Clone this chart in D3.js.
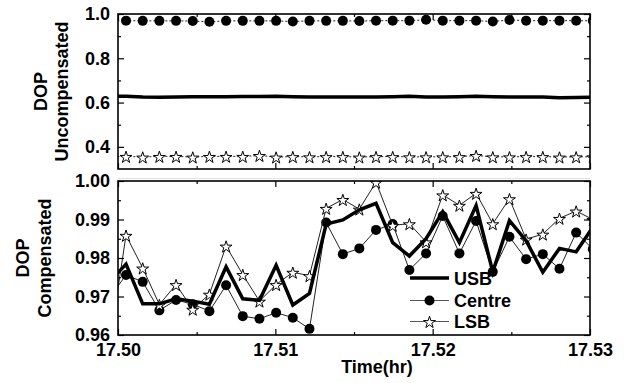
<!DOCTYPE html>
<html>
<head>
<meta charset="utf-8">
<script src="https://cdn.jsdelivr.net/npm/d3@7"></script>
<style>
  body { margin: 0; background: #fff; }
  svg { display: block; font-family: "Liberation Sans", Arial, sans-serif; font-weight: bold; }
</style>
</head>
<body>
<svg width="624" height="383"></svg>
<script>
// sample times (hr)
let time = [17.49945, 17.50051, 17.50157, 17.50263, 17.50369, 17.50475, 17.50581, 17.50687,
  17.50793, 17.50899, 17.51005, 17.51111, 17.51217, 17.51323, 17.51429, 17.51534, 17.51640,
  17.51746, 17.51852, 17.51958, 17.52064, 17.52170, 17.52276, 17.52382, 17.52488, 17.52594,
  17.52700, 17.52806, 17.52912, 17.53018]

// top panel: uncompensated DOP
let uncUSB = [0.629, 0.629, 0.625, 0.624, 0.625, 0.626, 0.626, 0.626, 0.627, 0.627, 0.628, 0.626,
  0.625, 0.625, 0.625, 0.625, 0.625, 0.626, 0.628, 0.625, 0.625, 0.626, 0.628, 0.626, 0.625,
  0.625, 0.625, 0.622, 0.623, 0.624]
let uncCentre = [0.970, 0.970, 0.969, 0.969, 0.969, 0.968, 0.965, 0.969, 0.969, 0.969, 0.969, 0.966,
  0.969, 0.969, 0.969, 0.968, 0.970, 0.970, 0.970, 0.974, 0.970, 0.970, 0.970, 0.966, 0.973,
  0.970, 0.970, 0.970, 0.970, 0.969]
let uncLSB = [0.357, 0.357, 0.354, 0.357, 0.357, 0.354, 0.357, 0.357, 0.357, 0.361, 0.354, 0.356,
  0.355, 0.356, 0.356, 0.354, 0.356, 0.356, 0.355, 0.355, 0.355, 0.356, 0.361, 0.355, 0.355,
  0.356, 0.356, 0.354, 0.355, 0.355]

// bottom panel: compensated DOP
let compUSB = [0.9738, 0.9784, 0.9681, 0.9681, 0.9694, 0.9688, 0.9680, 0.9777, 0.9694, 0.9690,
  0.9781, 0.9678, 0.9708, 0.9888, 0.9899, 0.9925, 0.9942, 0.9840, 0.9805, 0.9850, 0.9920,
  0.9840, 0.9936, 0.9764, 0.9897, 0.9845, 0.9763, 0.9825, 0.9816, 0.9880]
let compCentre = [0.9696, 0.9756, 0.9738, 0.9664, 0.9691, 0.9680, 0.9662, 0.9729, 0.9649, 0.9642,
  0.9658, 0.9645, 0.9616, 0.9892, 0.9810, 0.9825, 0.9873, 0.9888, 0.9769, 0.9812, 0.9909,
  0.9812, 0.9896, 0.9764, 0.9855, 0.9797, 0.9810, 0.9772, 0.9866, 0.9823]
let compLSB = [0.9573, 0.9859, 0.9774, 0.9679, 0.9731, 0.9667, 0.9706, 0.9831, 0.9757, 0.9688,
  0.9731, 0.9763, 0.9754, 0.9929, 0.9952, 0.9927, 0.9997, 0.9885, 0.9889, 0.9842, 0.9964,
  0.9937, 0.9968, 0.9889, 0.9954, 0.9849, 0.9862, 0.9903, 0.9922, 0.9900]

let xTicks = [17.50, 17.51, 17.52, 17.53]
let xMinor = [17.505, 17.515, 17.525]
let yTicksTop = [0.4, 0.6, 0.8, 1.0]
let yMinorTop = [0.5, 0.7, 0.9]
let yTicksBot = [0.96, 0.97, 0.98, 0.99, 1.00]
let yMinorBot = [0.965, 0.975, 0.985, 0.995]
let legendNames = ['USB', 'Centre', 'LSB']

let left = 118, right = 590
let svg = d3.select('svg')

let x = d3.scaleLinear().domain([17.50, 17.53]).range([left, right])

let panels = [
  { id: 'top', y: d3.scaleLinear().domain([0.3, 1.0]).range([169, 14]),
    usb: uncUSB, centre: uncCentre, lsb: uncLSB,
    ticks: yTicksTop, minor: yMinorTop, fmt: d3.format('.1f'),
    labels: [['DOP', 47], ['Uncompensated', 68]], dash: '2,2' },
  { id: 'bot', y: d3.scaleLinear().domain([0.96, 1.00]).range([335, 181]),
    usb: compUSB, centre: compCentre, lsb: compLSB,
    ticks: yTicksBot, minor: yMinorBot, fmt: d3.format('.2f'),
    labels: [['DOP', 29], ['Compensated', 51]], dash: null }
]

// faint separator between panels
svg.append('line')
  .attr('x1', left).attr('x2', right).attr('y1', 178.5).attr('y2', 178.5)
  .attr('stroke', '#e2e2e2').attr('stroke-width', 1)

let star = d3.symbol(d3.symbolStar, 44)

panels.forEach(p => {
  let y = p.y
  let [y0, y1] = y.range()
  let g = svg.append('g')

  g.append('clipPath').attr('id', 'clip-' + p.id)
    .append('rect').attr('x', left).attr('y', y1).attr('width', right - left).attr('height', y0 - y1)

  let plot = g.append('g').attr('clip-path', `url(#clip-${p.id})`)

  let line = vals => d3.line().x((d, i) => x(time[i])).y(d => y(d))(vals)

  // centre
  plot.append('path').attr('d', line(p.centre))
    .attr('fill', 'none').attr('stroke', '#222').attr('stroke-width', 1)
    .attr('stroke-dasharray', p.dash)
  plot.selectAll('circle.c').data(p.centre).enter().append('circle')
    .attr('cx', (d, i) => x(time[i])).attr('cy', d => y(d)).attr('r', 5).attr('fill', '#000')

  // LSB
  plot.append('path').attr('d', line(p.lsb))
    .attr('fill', 'none').attr('stroke', '#222').attr('stroke-width', 1)
    .attr('stroke-dasharray', p.dash)
  plot.selectAll('path.s').data(p.lsb).enter().append('path').attr('class', 's')
    .attr('d', star)
    .attr('transform', (d, i) => `translate(${x(time[i])},${y(d) + 1})`)
    .attr('fill', '#fff').attr('stroke', '#000').attr('stroke-width', 1)

  // USB
  plot.append('path').attr('d', line(p.usb))
    .attr('fill', 'none').attr('stroke', '#000').attr('stroke-width', 3.5)
    .attr('stroke-linejoin', 'miter')

  // axes (ticks inward, mirrored)
  let axes = [
    [d3.axisLeft(y).tickValues(p.ticks).tickFormat(p.fmt).tickSize(-6).tickPadding(8), left, 0],
    [d3.axisLeft(y).tickValues(p.minor).tickFormat('').tickSize(-3), left, 0],
    [d3.axisRight(y).tickValues(p.ticks).tickFormat('').tickSize(-6), right, 0],
    [d3.axisRight(y).tickValues(p.minor).tickFormat('').tickSize(-3), right, 0],
    [d3.axisTop(x).tickValues(xTicks).tickFormat('').tickSize(-6), 0, y1],
    [d3.axisTop(x).tickValues(xMinor).tickFormat('').tickSize(-3), 0, y1],
    [d3.axisBottom(x).tickValues(xTicks).tickFormat(p.id == 'bot' ? d3.format('.2f') : '').tickSize(-6).tickPadding(8), 0, y0],
    [d3.axisBottom(x).tickValues(xMinor).tickFormat('').tickSize(-3), 0, y0]
  ]
  axes.forEach(([ax, tx, ty]) => {
    let a = g.append('g').attr('transform', `translate(${tx},${ty})`).call(ax)
    a.select('.domain').remove()
    a.selectAll('line').attr('stroke', '#000').attr('stroke-width', 1.2)
    a.selectAll('text').attr('fill', '#000').attr('font-size', 18)
      .attr('font-family', '"Liberation Sans", Arial, sans-serif').attr('font-weight', 'bold')
  })

  g.append('rect').attr('x', left).attr('y', y1).attr('width', right - left).attr('height', y0 - y1)
    .attr('fill', 'none').attr('stroke', '#000').attr('stroke-width', 1.6)

  let cy = (y0 + y1) / 2
  p.labels.forEach(([t, bx]) => {
    g.append('text').attr('transform', `translate(${bx},${cy}) rotate(-90)`)
      .attr('text-anchor', 'middle').attr('font-size', 18).text(t)
  })
})

// legend
let ly = [278, 300.5, 321.5]
let lg = svg.append('g')
legendNames.forEach((n, i) => {
  let row = lg.append('g').attr('transform', `translate(0,${ly[i]})`)
  row.append('line').attr('x1', 410).attr('x2', 449).attr('y1', 0).attr('y2', 0)
    .attr('stroke', i == 0 ? '#000' : '#555').attr('stroke-width', i == 0 ? 3.5 : 1)
  if (i == 1) row.append('circle').attr('cx', 429.5).attr('cy', 0).attr('r', 5).attr('fill', '#000')
  if (i == 2) row.append('path').attr('d', star).attr('transform', 'translate(429.5,1)')
    .attr('fill', '#fff').attr('stroke', '#000')
  row.append('text').attr('x', 454).attr('y', 6.5).attr('font-size', 18).text(n)
})

// x axis title
svg.append('text').attr('x', 377).attr('y', 373).attr('text-anchor', 'middle')
  .attr('font-size', 18).text('Time(hr)')
</script>
</body>
</html>
